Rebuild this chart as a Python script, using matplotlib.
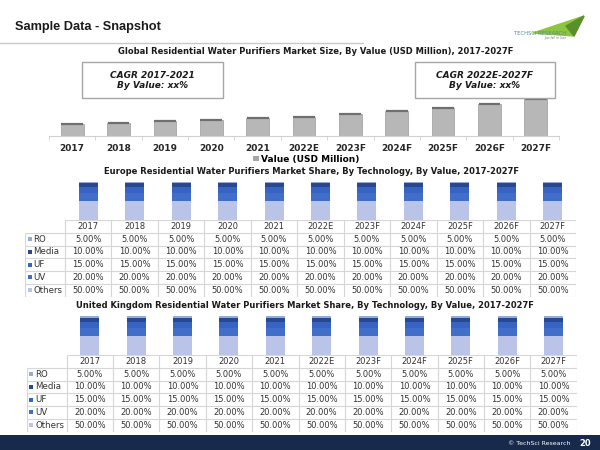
import matplotlib
matplotlib.use("Agg")
import matplotlib.pyplot as plt
from matplotlib.patches import Rectangle, Polygon, Patch

# ---------------- data ----------------
years = ["2017", "2018", "2019", "2020", "2021", "2022E", "2023F", "2024F", "2025F", "2026F", "2027F"]
global_value = [120, 133, 150, 160, 177, 193, 223, 253, 283, 323, 370]

technologies = ["RO", "Media", "UF", "UV", "Others"]
europe_ro = [5.0] * 11
europe_media = [10.0] * 11
europe_uf = [15.0] * 11
europe_uv = [20.0] * 11
europe_others = [50.0] * 11

uk_ro = [5.0] * 11
uk_media = [10.0] * 11
uk_uf = [15.0] * 11
uk_uv = [20.0] * 11
uk_others = [50.0] * 11

tech_colors = {"RO": "#9aaad6", "Media": "#28498f", "UF": "#3764c2", "UV": "#416ec9", "Others": "#b9c4e8"}

W, H = 600, 450
fig = plt.figure(figsize=(6, 4.5), dpi=100)
fig.patch.set_facecolor("white")


def add_ax(x0, y0, x1, y1):
    return fig.add_axes([x0 / W, 1 - y1 / H, (x1 - x0) / W, (y1 - y0) / H])


def ftext(x, y, s, **kw):
    return fig.text(x / W, 1 - y / H, s, **kw)


# ---------------- header ----------------
ftext(15, 27, "Sample Data - Snapshot", fontsize=9.2, fontweight="bold",
      family="Liberation Sans", color="#1a1a1a", va="center", ha="left")
fig.add_artist(plt.Line2D([0, 363 / W], [1 - 43 / H, 1 - 43 / H], color="#c8c8c8", lw=1,
                          transform=fig.transFigure))

# logo (decoration)
fig.add_artist(Polygon([(533 / W, 1 - 33 / H), (584 / W, 1 - 16 / H), (574 / W, 1 - 36 / H)],
                       closed=True, color="#8cc63f", transform=fig.transFigure))
fig.add_artist(Polygon([(566 / W, 1 - 26 / H), (584 / W, 1 - 16 / H), (574 / W, 1 - 36 / H)],
                       closed=True, color="#5a8f29", transform=fig.transFigure))
ftext(540, 33.5, "TECHSCI RESEARCH", fontsize=3.8, color="#5a8a8a", ha="center", va="center")
ftext(556, 38.5, "Just fall in love", fontsize=2.2, color="#777777", ha="center", va="center", style="italic")

# ---------------- chart 1 ----------------
ftext(316, 52, "Global Residential Water Purifiers Market Size, By Value (USD Million), 2017-2027F",
      fontsize=6, fontweight="bold", ha="center", va="center", color="#1a1a1a")

ax1 = add_ax(49, 58, 559, 136)
xs = list(range(len(years)))
ax1.bar(xs, global_value, width=0.49, color="#b7b7b7", edgecolor="#9c9c9c", linewidth=0.5, zorder=2)
ax1.hlines(global_value, [x - 0.235 for x in xs], [x + 0.235 for x in xs], color="#6f6f6f", lw=1.6, zorder=3)
ax1.set_xlim(-0.5, 10.5)
ax1.set_ylim(0, 780)
for s in ["top", "left", "right"]:
    ax1.spines[s].set_visible(False)
ax1.spines["bottom"].set_color("#d0d0d0")
ax1.set_yticks([])
ax1.set_xticks(xs)
ax1.set_xticklabels(years, fontsize=6.5, fontweight="bold", color="#262626")
ax1.tick_params(axis="x", length=0, pad=6)
ax1.set_xticks([x + 0.5 for x in range(-1, 11)], minor=True)
ax1.tick_params(axis="x", which="minor", length=3, color="#d0d0d0")
ax1.patch.set_alpha(0)
leg = ax1.legend(handles=[Patch(facecolor="#a6a6a6")], labels=["Value (USD Million)"],
                 loc="upper center", bbox_to_anchor=(0.505, -0.135), frameon=False,
                 handlelength=0.6, handleheight=0.6, handletextpad=0.3,
                 prop={"size": 6.5, "weight": "bold"})

# CAGR boxes
for (x0, x1, l1) in [(82, 223, "CAGR 2017-2021"), (415, 555, "CAGR 2022E-2027F")]:
    fig.add_artist(Rectangle((x0 / W, 1 - 98 / H), (x1 - x0) / W, 36 / H, transform=fig.transFigure,
                             facecolor="white", edgecolor="#a6a6a6", lw=1, zorder=5))
    cx = (x0 + x1) / 2
    ftext(cx, 75.5, l1, fontsize=6.5, fontweight="bold", style="italic", ha="center", va="center",
          color="#1a1a1a", zorder=6)
    ftext(cx, 86, "By Value: xx%", fontsize=6.5, fontweight="bold", style="italic", ha="center",
          va="center", color="#1a1a1a", zorder=6)


# ---------------- share charts ----------------
def share_chart(title, title_y, title_x, bar_top, bar_bot, tab_bot, lab_x0, data_x0, data_x1, series):
    ftext(title_x, title_y, title, fontsize=6, fontweight="bold", ha="center", va="center", color="#1a1a1a")
    axb = add_ax(data_x0, bar_top, data_x1, bar_bot)
    bottom = [0.0] * len(years)
    for name in ["Others", "UV", "UF", "Media", "RO"]:
        vals = series[name]
        axb.bar(xs, vals, bottom=bottom, width=0.41, color=tech_colors[name], linewidth=0)
        bottom = [b + v for b, v in zip(bottom, vals)]
    axb.set_xlim(-0.5, 10.5)
    axb.set_ylim(0, 100)
    axb.axis("off")

    # table
    colw = (data_x1 - data_x0) / len(years)
    lw_cols = (data_x0 - lab_x0) / colw
    axt = add_ax(lab_x0, bar_bot, data_x1, tab_bot)
    xl = -0.5 - lw_cols
    axt.set_xlim(xl, 10.5)
    axt.set_ylim(0, 6)
    axt.axis("off")
    gc = "#d6d6d6"
    for k in range(6):
        axt.hlines(k, xl, 10.5, color=gc, lw=0.8)
    axt.hlines(6, -0.5, 10.5, color=gc, lw=0.8)
    axt.vlines(xl, 0, 5, color=gc, lw=0.8)
    for k in range(12):
        axt.vlines(-0.5 + k, 0, 6, color=gc, lw=0.8)
    for i, yr in enumerate(years):
        axt.text(i, 5.5, yr, ha="center", va="center", fontsize=6, color="#333333")
    for r, name in enumerate(technologies):
        yc = 4.5 - r
        axt.plot([xl + 0.1], [yc], marker="s", ms=3.2, color=tech_colors[name], mew=0)
        axt.text(xl + 0.18, yc, name, ha="left", va="center", fontsize=6.2, color="#333333")
        for i, v in enumerate(series[name]):
            axt.text(i, yc, f"{v:.2f}%", ha="center", va="center", fontsize=6, color="#333333")


europe = {"RO": europe_ro, "Media": europe_media, "UF": europe_uf, "UV": europe_uv, "Others": europe_others}
uk = {"RO": uk_ro, "Media": uk_media, "UF": uk_uf, "UV": uk_uv, "Others": uk_others}

share_chart("Europe Residential Water Purifiers Market Share, By Technology, By Value, 2017-2027F",
            172, 311, 181.5, 220, 296.5, 25, 65, 576, europe)
share_chart("United Kingdom Residential Water Purifiers Market Share, By Technology, By Value, 2017-2027F",
            306, 305, 316, 355, 431.5, 26.7, 66.7, 576.7, uk)

# ---------------- footer ----------------
fig.add_artist(Rectangle((0, 0), 1, 15 / H, transform=fig.transFigure, facecolor="#172a4c", edgecolor="none"))
ftext(571, 443.5, "© TechSci Research", fontsize=4.5, color="white", ha="right", va="center")
ftext(585, 443.5, "20", fontsize=6, fontweight="bold", color="white", ha="center", va="center")

fig.savefig("out.png", dpi=100)
